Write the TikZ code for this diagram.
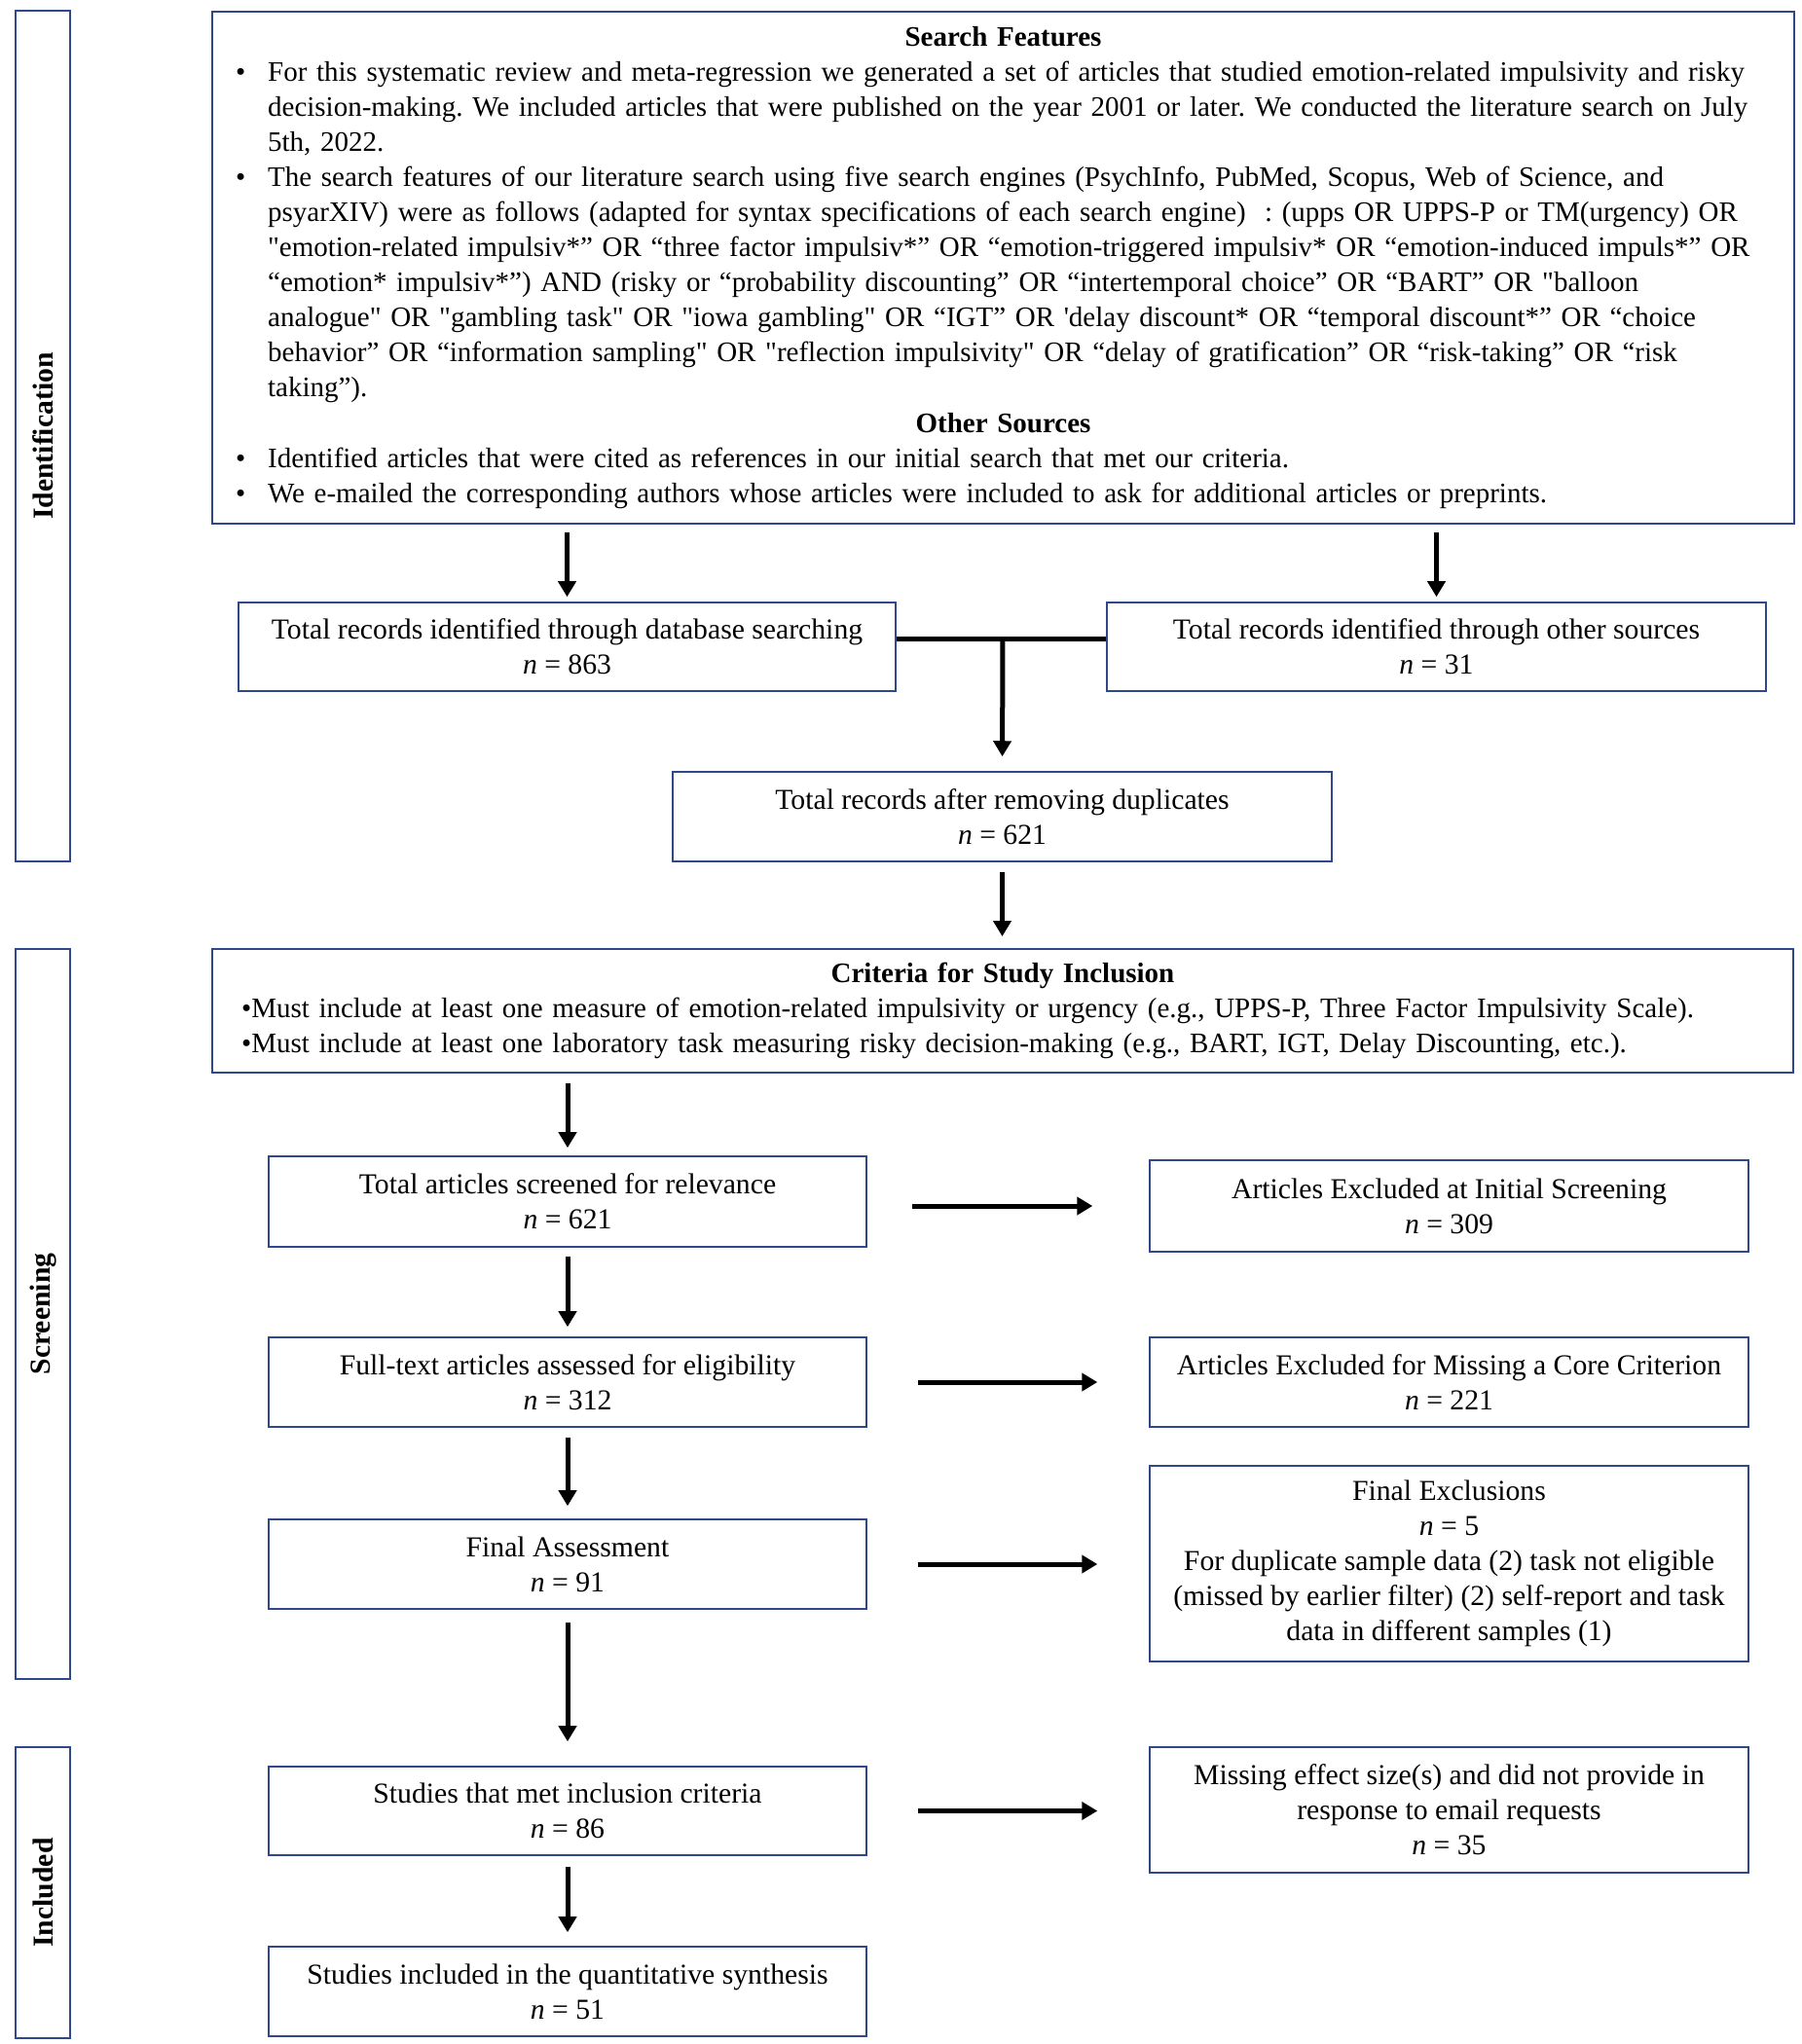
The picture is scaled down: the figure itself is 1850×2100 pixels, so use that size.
\documentclass[tikz,border=0pt]{standalone}
\usepackage{fontspec}
\newfontfamily\tnr{Liberation Serif}
\usetikzlibrary{arrows.meta}
\definecolor{boxblue}{RGB}{47,72,140}
\newcommand{\bul}{\makebox[0.74cm][r]{•\hspace{0.46cm}}}
\begin{document}
\begin{tikzpicture}[x=0.02cm,y=-0.02cm,
  font=\tnr\fontsize{16.9}{20.5}\selectfont,
  box/.style={draw=boxblue, line width=0.9pt, align=center, inner sep=0pt},
  bigbox/.style={draw=boxblue, line width=1.1pt, align=left, inner sep=0pt,
    font=\tnr\fontsize{16.5}{20.5}\selectfont\frenchspacing},
  side/.style={draw=boxblue, line width=0.9pt, rotate=90, inner sep=0pt, minimum height=1.12cm,
    font=\tnr\bfseries\fontsize{16.9}{20.5}\selectfont},
  lbox/.style={box, minimum width=12.28cm},
  rbox/.style={box, minimum width=12.3cm},
  arr/.style={draw=black, line width=0.1cm, -{Triangle[width=0.36cm,length=0.32cm]}},
  joinline/.style={draw=black, line width=0.1cm}]
\useasboundingbox (0,0) rectangle (1850,2100);

% side phase boxes
\node[side, minimum width=17.48cm] (ident) at (44,448) {Identification};
\node[side, minimum width=15.0cm] (screen) at (44,1350) {Screening};
\node[side, minimum width=5.98cm] (incl) at (44,1944.5) {Included};

% top search box
\node[bigbox, text width=31.7cm, inner xsep=0.4cm, minimum height=10.52cm] (top) at (1030.5,275) {%
\setlength{\parindent}{0pt}%
{\centering\bfseries Search Features\par}
\bul For this systematic review and meta-regression we generated a set of articles that studied emotion-related impulsivity and risky\\
\hspace*{0.74cm}decision-making. We included articles that were published on the year 2001 or later. We conducted the literature search on July\\
\hspace*{0.74cm}5th, 2022.\\
\bul The search features of our literature search using five search engines (PsychInfo, PubMed, Scopus, Web of Science, and\\
\hspace*{0.74cm}psyarXIV) were as follows (adapted for syntax specifications of each search engine)\ \ : (upps OR UPPS-P or TM(urgency) OR\\
\hspace*{0.74cm}"emotion-related impulsiv*” OR “three factor impulsiv*” OR “emotion-triggered impulsiv* OR “emotion-induced impuls*” OR\\
\hspace*{0.74cm}“emotion* impulsiv*”) AND (risky or “probability discounting” OR “intertemporal choice” OR “BART” OR "balloon\\
\hspace*{0.74cm}analogue" OR "gambling task" OR "iowa gambling" OR “IGT” OR 'delay discount* OR “temporal discount*” OR “choice\\
\hspace*{0.74cm}behavior” OR “information sampling" OR "reflection impulsivity" OR “delay of gratification” OR “risk-taking” OR “risk\\
\hspace*{0.74cm}taking”).\par
{\centering\bfseries Other Sources\par}
\bul Identified articles that were cited as references in our initial search that met our criteria.\\
\bul We e-mailed the corresponding authors whose articles were included to ask for additional articles or preprints.};

% identification boxes
\node[box, minimum width=13.5cm, minimum height=1.82cm] (db) at (582.5,664.5)
  {Total records identified through database searching\\\textit{n} = 863};
\node[box, minimum width=13.54cm, minimum height=1.82cm] (other) at (1475.5,664.5)
  {Total records identified through other sources\\\textit{n} = 31};
\node[box, minimum width=13.54cm, minimum height=1.84cm] (dup) at (1029.5,839)
  {Total records after removing duplicates\\\textit{n} = 621};

% criteria box
\node[bigbox, text width=31.28cm, inner xsep=0.6cm, minimum height=2.54cm] (crit) at (1030,1038.5) {%
\setlength{\parindent}{0pt}%
{\centering\bfseries Criteria for Study Inclusion\par}
•Must include at least one measure of emotion-related impulsivity or urgency (e.g., UPPS-P, Three Factor Impulsivity Scale).\\
•Must include at least one laboratory task measuring risky decision-making (e.g., BART, IGT, Delay Discounting, etc.).};

% screening column
\node[lbox, minimum height=1.86cm] (scr) at (583,1234.5)
  {Total articles screened for relevance\\\textit{n} = 621};
\node[rbox, minimum height=1.88cm] (exc1) at (1488.5,1239)
  {Articles Excluded at Initial Screening\\\textit{n} = 309};
\node[lbox, minimum height=1.84cm] (full) at (583,1420)
  {Full-text articles assessed for eligibility\\\textit{n} = 312};
\node[rbox, minimum height=1.84cm] (exc2) at (1488.5,1420)
  {Articles Excluded for Missing a Core Criterion\\\textit{n} = 221};
\node[lbox, minimum height=1.84cm] (final) at (583,1607)
  {Final Assessment\\\textit{n} = 91};
\node[rbox, minimum height=4.02cm] (exc3) at (1488.5,1606.5)
  {Final Exclusions\\\textit{n} = 5\\For duplicate sample data (2) task not eligible\\(missed by earlier filter) (2) self-report and task\\data in different samples (1)};

% included column
\node[lbox, minimum height=1.82cm] (met) at (583,1860.5)
  {Studies that met inclusion criteria\\\textit{n} = 86};
\node[rbox, minimum height=2.58cm] (miss) at (1488.5,1859.5)
  {Missing effect size(s) and did not provide in\\response to email requests\\\textit{n} = 35};
\node[lbox, minimum height=1.84cm] (syn) at (583,2046)
  {Studies included in the quantitative synthesis\\\textit{n} = 51};

% connectors
\coordinate (mj) at (1030,656);
\draw[arr, shorten <=0.16cm, shorten >=0.1cm] (top.south -| db) -- (db.north);
\draw[arr, shorten <=0.16cm, shorten >=0.1cm] (top.south -| other) -- (other.north);
\draw[joinline] (db.east |- mj) -- (other.west |- mj);
\draw[arr, shorten >=0.3cm] (mj) -- (dup.north);
\draw[arr, shorten <=0.2cm, shorten >=0.24cm] (dup.south) -- (crit.north -| dup);
\draw[arr, shorten <=0.2cm, shorten >=0.16cm] (crit.south -| scr) -- (scr.north);
\draw[arr, shorten <=0.92cm, shorten >=1.16cm] (scr.east |- exc1) -- (exc1.west);
\draw[arr, shorten <=0.18cm, shorten >=0.2cm] (scr.south) -- (full.north);
\draw[arr, shorten <=1.04cm, shorten >=1.06cm] (full.east) -- (exc2.west);
\draw[arr, shorten <=0.2cm, shorten >=0.26cm] (full.south) -- (final.north);
\draw[arr, shorten <=1.04cm, shorten >=1.06cm] (final.east) -- (exc3.west |- final);
\draw[arr, shorten <=0.26cm, shorten >=0.5cm] (final.south) -- (met.north);
\draw[arr, shorten <=1.04cm, shorten >=1.06cm] (met.east) -- (miss.west |- met);
\draw[arr, shorten <=0.22cm, shorten >=0.28cm] (met.south) -- (syn.north);
\end{tikzpicture}
\end{document}
